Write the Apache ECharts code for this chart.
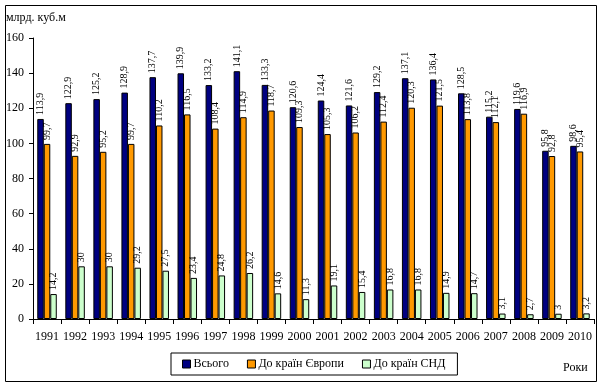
<!DOCTYPE html>
<html><head><meta charset="utf-8">
<script src="https://cdn.jsdelivr.net/npm/echarts@6/dist/echarts.min.js"></script>
<style>html,body{margin:0;padding:0;background:#fff}#c{width:601px;height:386px}</style>
</head><body><div id="c"></div>
<script>
const years = ['1991','1992','1993','1994','1995','1996','1997','1998','1999','2000','2001','2002','2003','2004','2005','2006','2007','2008','2009','2010'];
const total = [113.9,122.9,125.2,128.9,137.7,139.9,133.2,141.1,133.3,120.6,124.4,121.6,129.2,137.1,136.4,128.5,115.2,119.6,95.8,98.6];
const europe = [99.7,92.9,95.2,99.7,110.2,116.5,108.4,114.9,118.7,109.3,105.3,106.2,112.4,120.3,121.5,113.8,112.1,116.9,92.8,95.4];
const cis = [14.2,30,30,29.2,27.5,23.4,24.8,26.2,14.6,11.3,19.1,15.4,16.8,16.8,14.9,14.7,3.1,2.7,3,3.2];
const seriesNames = ['Всього','До країн Європи','До країн СНД'];
const colors = ['#000080','#FF9900','#CCFFCC'];
const FONT = 'Liberation Serif';

const chart = echarts.init(document.getElementById('c'), null, {renderer:'canvas'});
const mk = (name, data, color) => ({
  name, type:'bar', data, barWidth:6.5, barGap:'0%',
  itemStyle:{color, borderColor:'#000', borderWidth:1},
  label:{show:true, position:'top', rotate:90, align:'left', verticalAlign:'middle', distance:4,
    fontFamily:FONT, fontSize:10, color:'#000',
    formatter:p=>String(p.value).replace('.',',')},
  animation:false
});
chart.setOption({
  animation:false,
  grid:{left:33, right:7, top:38, bottom:67, containLabel:false},
  xAxis:{type:'category', data:years,
    axisLine:{lineStyle:{color:'#000', width:1}},
    axisTick:{show:true, length:5, lineStyle:{color:'#000'}},
    axisLabel:{fontFamily:FONT, fontSize:12, color:'#000', margin:12, interval:0}},
  yAxis:{type:'value', min:0, max:160, interval:20,
    axisLine:{show:true, lineStyle:{color:'#000'}},
    axisTick:{show:true, length:4, lineStyle:{color:'#000'}},
    splitLine:{show:false},
    axisLabel:{fontFamily:FONT, fontSize:12, color:'#000', margin:9}},
  legend:{data:seriesNames, left:171, top:353, orient:'horizontal',
    itemWidth:8, itemHeight:8, itemGap:18, icon:'rect',
    borderColor:'#000', borderWidth:1, padding:[5,12,5,11],
    textStyle:{fontFamily:FONT, fontSize:12, color:'#000', padding:[0,0,0,-2]},
    itemStyle:{borderColor:'#000', borderWidth:1}},
  graphic:[
    {type:'rect', shape:{x:5.5, y:5.5, width:591, height:376}, style:{fill:'none', stroke:'#000', lineWidth:1}, silent:true, z:-1},
    {type:'text', left:6, top:12, style:{text:'млрд. куб.м', font:'12px "Liberation Serif"', fill:'#000'}},
    {type:'text', left:563, top:362, style:{text:'Роки', font:'12px "Liberation Serif"', fill:'#000'}}
  ],
  series:[mk(seriesNames[0], total, colors[0]), mk(seriesNames[1], europe, colors[1]), mk(seriesNames[2], cis, colors[2])]
});
</script></body></html>
